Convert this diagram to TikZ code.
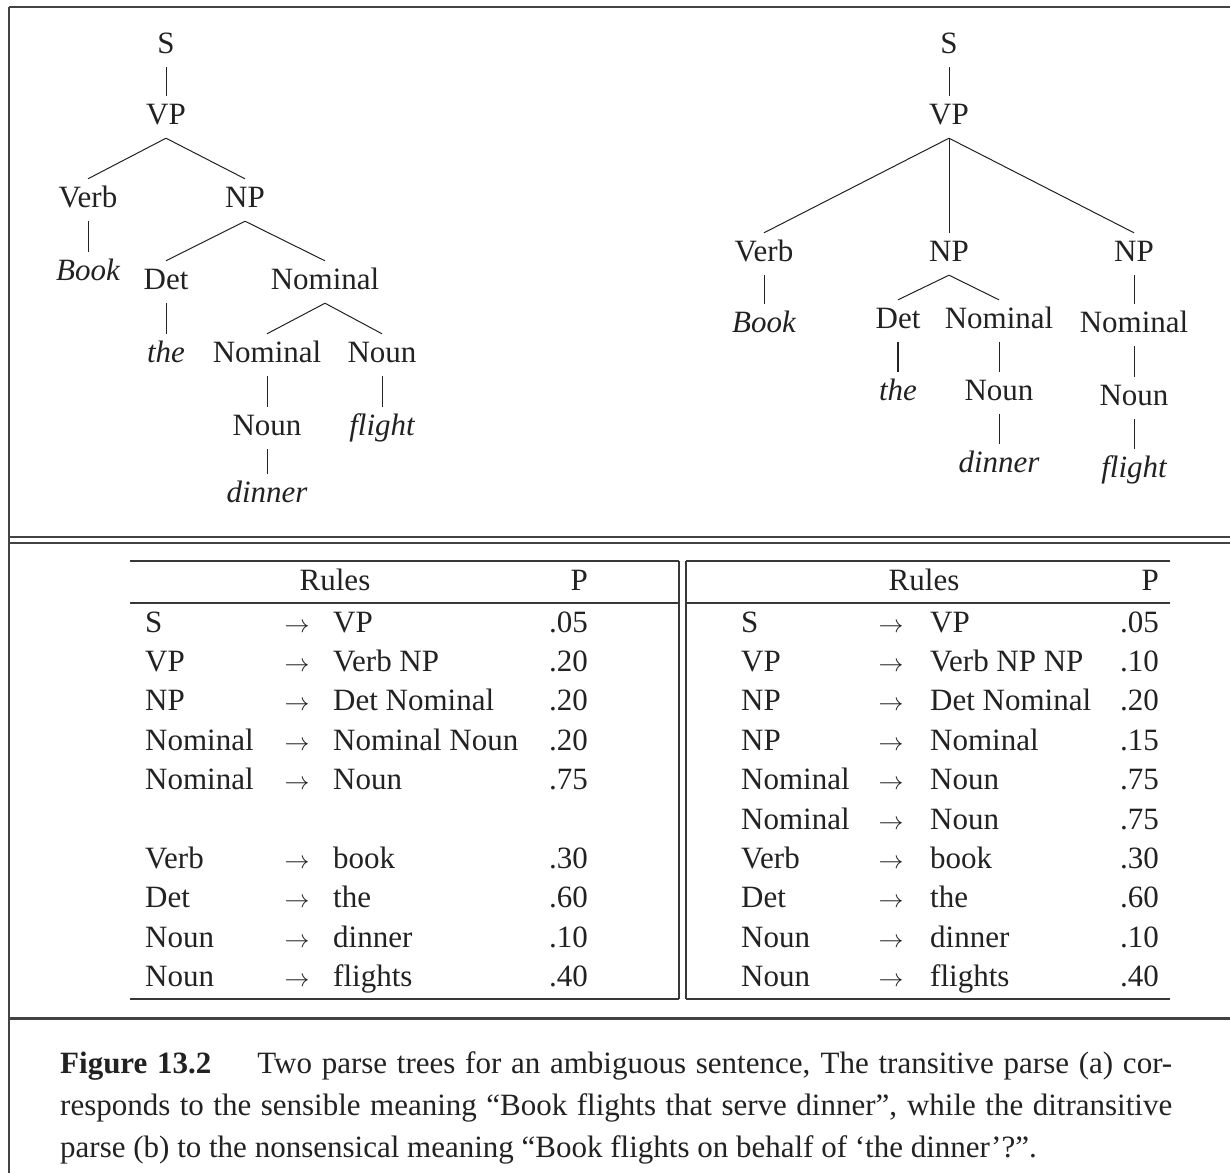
\documentclass[tikz,border=0pt]{standalone}
\usepackage{fontspec}
\IfFontExistsTF{LiberationSerif-Regular.ttf}{%
  \setmainfont{LiberationSerif}[Extension=.ttf, UprightFont=*-Regular, BoldFont=*-Bold, ItalicFont=*-Italic, BoldItalicFont=*-BoldItalic]}{%
  \setmainfont{Liberation Serif}}
\usepackage{tikz}
\definecolor{ink}{HTML}{222222}

\begin{document}
\begin{tikzpicture}[x=1pt,y=-1pt,
  every node/.style={text=ink, font=\rmfamily\fontsize{31}{40}\selectfont},
  every edge/.style={draw=ink, line width=1pt},
  cat/.style={anchor=base, inner xsep=2pt, inner ysep=0pt, text height=28pt, text depth=14pt},
  word/.style={cat, font=\rmfamily\fontsize{31}{40}\selectfont\itshape},
  lhs/.style={anchor=base west, inner sep=0pt},
  prob/.style={anchor=base east, inner sep=0pt},
  frame/.style={draw=ink!85, line width=1.8pt},
  tabline/.style={draw=ink!90, line width=1.1pt}]
	\useasboundingbox [fill=white] (0,0) rectangle (1230,1172);
	\draw [frame, line width=2.6pt] (9,7) -- (1235,7);
	\draw [frame] (9,7) -- (9,1176);
	\draw [frame] (9,537) -- (1235,537);
	\draw [frame] (9,543) -- (1235,543);
	\draw [frame, line width=3pt] (9,1018) -- (1235,1018);
	\node [cat] (s1) at (166,53) {S};
	\node [cat] (vp1) at (166,124) {VP};
	\node [cat] (verb1) at (88,207) {Verb};
	\node [cat] (np1) at (245,207) {NP};
	\node [word] (book1) at (88,280) {Book};
	\node [cat] (det1) at (166,289) {Det};
	\node [cat] (nom1) at (325,289) {Nominal};
	\node [word] (the1) at (166,362) {the};
	\node [cat] (nom1b) at (267,362) {Nominal};
	\node [cat] (noun1) at (382,362) {Noun};
	\node [cat] (noun1b) at (267,435) {Noun};
	\node [word] (flight1) at (382,435) {flight};
	\node [word] (dinner1) at (267,502) {dinner};
	\path (s1.south) edge (vp1.north);
	\path (vp1.south) edge (verb1.north);
	\path (vp1.south) edge (np1.north);
	\path (verb1.south) edge (book1.north);
	\path (np1.south) edge (det1.north);
	\path (np1.south) edge (nom1.north);
	\path (det1.south) edge (the1.north);
	\path (nom1.south) edge (nom1b.north);
	\path (nom1.south) edge (noun1.north);
	\path (nom1b.south) edge (noun1b.north);
	\path (noun1.south) edge (flight1.north);
	\path (noun1b.south) edge (dinner1.north);
	\node [cat] (s2) at (949,53) {S};
	\node [cat] (vp2) at (949,124) {VP};
	\node [cat] (verb2) at (764,261) {Verb};
	\node [cat] (np2) at (949,261) {NP};
	\node [cat] (np2b) at (1134,261) {NP};
	\node [word] (book2) at (764,332) {Book};
	\node [cat] (det2) at (898,328) {Det};
	\node [cat] (nom2) at (999,328) {Nominal};
	\node [cat] (nom2b) at (1134,332) {Nominal};
	\node [word] (the2) at (898,400) {the};
	\node [cat] (noun2) at (999,400) {Noun};
	\node [cat] (noun2b) at (1134,405) {Noun};
	\node [word] (dinner2) at (999,472) {dinner};
	\node [word] (flight2) at (1134,477) {flight};
	\path (s2.south) edge (vp2.north);
	\path (vp2.south) edge (verb2.north);
	\path (vp2.south) edge (np2.north);
	\path (vp2.south) edge (np2b.north);
	\path (verb2.south) edge (book2.north);
	\path (np2.south) edge (det2.north);
	\path (np2.south) edge (nom2.north);
	\path (np2b.south) edge (nom2b.north);
	\path (det2.south) edge [line width=2pt] (the2.north);
	\path (nom2.south) edge (noun2.north);
	\path (nom2b.south) edge (noun2b.north);
	\path (noun2.south) edge (dinner2.north);
	\path (noun2b.south) edge (flight2.north);
	\draw [tabline] (130,561) -- (679,561);
	\draw [tabline] (130,603) -- (679,603);
	\draw [tabline] (130,999) -- (679,999);
	\draw [tabline] (686,561) -- (1170,561);
	\draw [tabline] (686,603) -- (1170,603);
	\draw [tabline] (686,999) -- (1170,999);
	\draw [tabline] (679,561) -- (679,999);
	\draw [tabline] (686,561) -- (686,999);
	\node [anchor=base, inner sep=0pt] (headl) at (335,590) {Rules};
	\node [prob] (headlp) at (588,590) {P};
	\node [anchor=base, inner sep=0pt] (headr) at (924,590) {Rules};
	\node [prob] (headrp) at (1159,590) {P};
	\foreach \i/\l/\r/\p in {1/S/VP/.05, 2/VP/Verb NP/.20, 3/NP/Det Nominal/.20,
	    4/Nominal/Nominal Noun/.20, 5/Nominal/Noun/.75, 7/Verb/book/.30,
	    8/Det/the/.60, 9/Noun/dinner/.10, 10/Noun/flights/.40} {
		\node [lhs] (ll\i) at (145,{632+39.4*(\i-1)}) {\l};
		\node [anchor=base, inner sep=0pt] (la\i) at (297,{632+39.4*(\i-1)}) {$\rightarrow$};
		\node [lhs] (lr\i) at (333,{632+39.4*(\i-1)}) {\r};
		\node [prob] (lp\i) at (588,{632+39.4*(\i-1)}) {\p};
	}
	\foreach \i/\l/\r/\p in {1/S/VP/.05, 2/VP/Verb NP NP/.10, 3/NP/Det Nominal/.20,
	    4/NP/Nominal/.15, 5/Nominal/Noun/.75, 6/Nominal/Noun/.75, 7/Verb/book/.30,
	    8/Det/the/.60, 9/Noun/dinner/.10, 10/Noun/flights/.40} {
		\node [lhs] (rl\i) at (741,{632+39.4*(\i-1)}) {\l};
		\node [anchor=base, inner sep=0pt] (ra\i) at (891,{632+39.4*(\i-1)}) {$\rightarrow$};
		\node [lhs] (rr\i) at (930,{632+39.4*(\i-1)}) {\r};
		\node [prob] (rp\i) at (1159,{632+39.4*(\i-1)}) {\p};
	}
	\node [anchor=base west, inner sep=0pt] (caption) at (60,1073) {\parbox[t]{1112pt}{\rmfamily\fontsize{31}{42}\selectfont\tolerance=9999
		\textbf{Figure 13.2}\hspace{46pt}Two parse trees for an ambiguous sentence, The transitive parse (a) cor-\linebreak
		responds to the sensible meaning “Book flights that serve dinner”, while the ditransitive\linebreak
		parse (b) to the nonsensical meaning “Book flights on behalf of ‘the dinner’?”.}};
\end{tikzpicture}
\end{document}
